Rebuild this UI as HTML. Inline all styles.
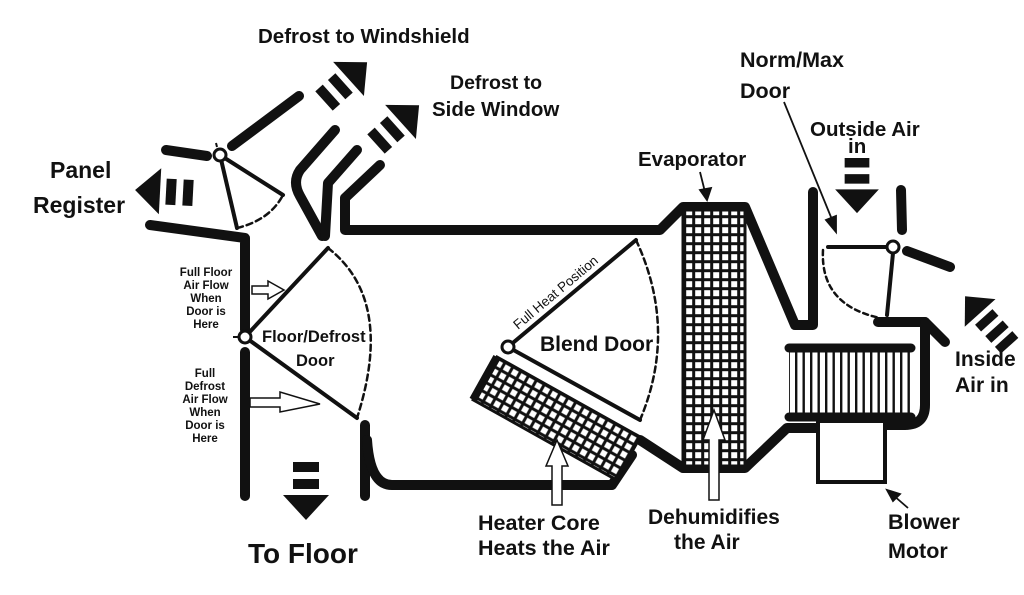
<!DOCTYPE html>
<html><head><meta charset="utf-8"><style>
html,body{margin:0;padding:0;background:#fff;}
svg{display:block;}
text{font-family:"Liberation Sans",sans-serif;font-weight:bold;fill:#111;}
</style></head><body>
<svg width="1024" height="595" viewBox="0 0 1024 595" xmlns="http://www.w3.org/2000/svg">
<defs>
<pattern id="grid" width="9" height="9" patternUnits="userSpaceOnUse">
<rect width="9" height="9" fill="#111"/><rect x="2.2" y="2.2" width="6" height="6" fill="#fff"/>
</pattern>
<pattern id="ribs" width="7.5" height="10" patternUnits="userSpaceOnUse">
<rect width="7.5" height="10" fill="#fff"/><rect x="0" width="2.4" height="10" fill="#111"/>
</pattern>
<g id="arr">
<rect x="0" y="-13" width="10" height="26" fill="#111"/>
<rect x="17" y="-13" width="10" height="26" fill="#111"/>
<polygon points="33,-23 33,23 58,0" fill="#111"/>
</g>
</defs>
<g stroke="#111" fill="none" stroke-linecap="round" stroke-linejoin="round">
<line x1="166" y1="150" x2="207" y2="156" stroke-width="10"/>
<line x1="232" y1="146" x2="299" y2="96" stroke-width="10"/>
<line x1="220" y1="155" x2="237" y2="228" stroke-width="4"/>
<line x1="220" y1="155" x2="283" y2="195" stroke-width="4"/>
<path d="M237,228 Q270,220 283,195" stroke-width="2.5" stroke-dasharray="6,4"/>
<path d="M150,225 L245,238 L245,330" stroke-width="10"/>
<line x1="245" y1="352" x2="245" y2="496" stroke-width="10"/>
<path d="M335,130 L300,170 Q292,182 300,196 L322,236" stroke-width="10"/>
<path d="M357,150 L328,183 L325,236" stroke-width="10"/>
<path d="M380,165 L345,198 L345,230 L660,230 L683,207 L745,207 L795,325 L813,325 L813,192" stroke-width="10"/>
<line x1="245" y1="337" x2="328" y2="248" stroke-width="4"/>
<line x1="245" y1="337" x2="357" y2="418" stroke-width="4"/>
<path d="M328,248 Q395,300 357,418" stroke-width="2.5" stroke-dasharray="6,4"/>
<path d="M365,425 L365,496" stroke-width="10"/>
<path d="M367,440 Q370,485 392,485 L612,485 L632,455" stroke-width="10"/>
<path d="M640,440 L683,468 L745,468 L787,428 L818,428" stroke-width="10"/>
<line x1="508" y1="347" x2="636" y2="240" stroke-width="4"/>
<line x1="508" y1="347" x2="640" y2="420" stroke-width="4"/>
<path d="M636,240 Q678,330 640,420" stroke-width="2.5" stroke-dasharray="6,4"/>
<path d="M878,322 L925,322 L925,405 Q925,425 905,425 L886,425" stroke-width="10"/>
<line x1="925" y1="322" x2="945" y2="342" stroke-width="10"/>
<line x1="901" y1="190" x2="902" y2="230" stroke-width="10"/>
<line x1="907" y1="251" x2="950" y2="267" stroke-width="10"/>
<line x1="828" y1="247" x2="887" y2="247" stroke-width="4"/>
<line x1="893" y1="253" x2="887" y2="315" stroke-width="4"/>
<path d="M823,250 Q820,305 880,318" stroke-width="2.5" stroke-dasharray="5,4"/>
</g>
<rect x="683" y="210" width="62" height="256" fill="url(#grid)" stroke="#111" stroke-width="3"/>
<g transform="translate(497,357) rotate(29.2)">
<rect x="0" y="0" width="164" height="49" fill="url(#grid)" stroke="#111" stroke-width="3"/>
<line x1="0" y1="0" x2="0" y2="49" stroke="#111" stroke-width="8"/>
</g>
<rect x="789" y="350" width="122" height="65" fill="url(#ribs)"/>
<line x1="789" y1="348" x2="911" y2="348" stroke="#111" stroke-width="9" stroke-linecap="round"/>
<line x1="789" y1="417" x2="911" y2="417" stroke="#111" stroke-width="9" stroke-linecap="round"/>
<rect x="818" y="421" width="67" height="61" fill="#fff" stroke="#111" stroke-width="4"/>
<g fill="#fff" stroke="#111" stroke-width="3">
<circle cx="220" cy="155" r="6"/>
<circle cx="245" cy="337" r="6"/>
<circle cx="508" cy="347" r="6"/>
<circle cx="893" cy="247" r="6"/>
</g>
<line x1="217" y1="147" x2="216" y2="143" stroke="#111" stroke-width="2"/>
<line x1="233" y1="337" x2="238" y2="337" stroke="#111" stroke-width="2"/>
<use href="#arr" transform="translate(193,193) rotate(183)"/>
<use href="#arr" transform="translate(324,101) rotate(-42)"/>
<use href="#arr" transform="translate(376,144) rotate(-42)"/>
<use href="#arr" transform="translate(857,158) rotate(90) scale(0.95)"/>
<use href="#arr" transform="translate(306,462) rotate(90)"/>
<g transform="translate(1000,335) rotate(-132) scale(0.9)">
<rect x="-16" y="-13" width="10" height="26" fill="#111"/>
<use href="#arr"/>
</g>
<g fill="#fff" stroke="#111" stroke-width="1.5">
<polygon points="252,286 268,286 268,281 284,290 268,299 268,294 252,294"/>
<polygon points="250,398 280,398 280,392 320,404 280,412 280,407 250,407"/>
<polygon points="552,505 552,466 546,466 557,440 568,466 562,466 562,505"/>
<polygon points="709,500 709,440 703,440 714,410 725,440 719,440 719,500"/>
</g>
<g stroke="#111" stroke-width="1.8" fill="#111">
<line x1="700" y1="172" x2="705" y2="192"/>
<polygon points="700,190 711,188 707,200"/>
<line x1="784" y1="102" x2="833" y2="222"/>
<polygon points="826,220 836,216 836,232"/>
<line x1="908" y1="508" x2="893" y2="495"/>
<polygon points="887,490 900,494 893,501"/>
</g>
<text x="258" y="43" font-size="20.5">Defrost to Windshield</text>
<text x="450" y="89" font-size="19.5">Defrost to</text>
<text x="432" y="116" font-size="20.5">Side Window</text>
<text x="50" y="178" font-size="23">Panel</text>
<text x="33" y="213" font-size="23">Register</text>
<text x="638" y="166" font-size="20.5">Evaporator</text>
<text x="740" y="67" font-size="21.5">Norm/Max</text>
<text x="740" y="98" font-size="21.5">Door</text>
<text x="810" y="136" font-size="20.5">Outside Air</text>
<text x="848" y="153" font-size="20.5">in</text>
<text x="955" y="366" font-size="21">Inside</text>
<text x="955" y="392" font-size="21">Air in</text>
<text x="888" y="529" font-size="21.5">Blower</text>
<text x="888" y="558" font-size="21.5">Motor</text>
<text x="248" y="563" font-size="28">To Floor</text>
<text x="478" y="530" font-size="21.5">Heater Core</text>
<text x="478" y="555" font-size="21.5">Heats the Air</text>
<text x="648" y="524" font-size="21">Dehumidifies</text>
<text x="674" y="549" font-size="21">the Air</text>
<text x="540" y="351" font-size="21">Blend Door</text>
<text x="262" y="342" font-size="16.5">Floor/Defrost</text>
<text x="296" y="366" font-size="16.5">Door</text>
<text x="518" y="330" font-size="13.5" transform="rotate(-40 518 330)" style="font-weight:normal">Full Heat Position</text>
<g font-size="11.5" text-anchor="middle">
<text x="206" y="276">Full Floor</text>
<text x="206" y="289">Air Flow</text>
<text x="206" y="302">When</text>
<text x="206" y="315">Door is</text>
<text x="206" y="328">Here</text>
<text x="205" y="377">Full</text>
<text x="205" y="390">Defrost</text>
<text x="205" y="403">Air Flow</text>
<text x="205" y="416">When</text>
<text x="205" y="429">Door is</text>
<text x="205" y="442">Here</text>
</g>
</svg>
</body></html>
